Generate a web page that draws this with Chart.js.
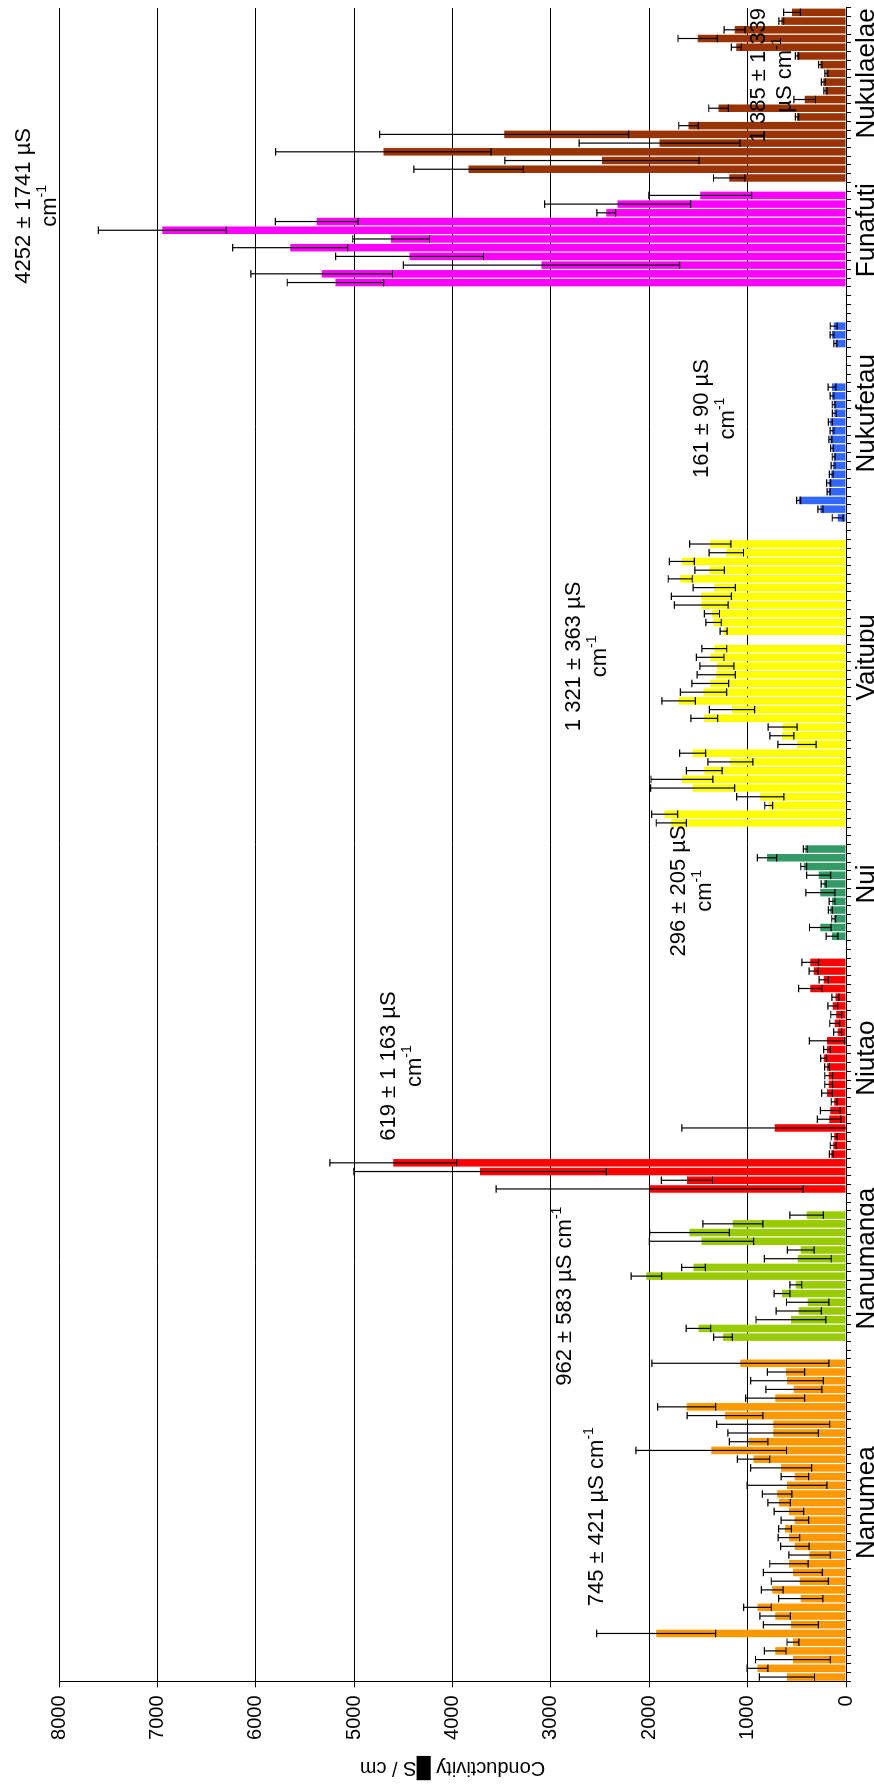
<!DOCTYPE html>
<html><head><meta charset="utf-8">
<script src="https://cdn.jsdelivr.net/npm/chart.js@4.4.0/dist/chart.umd.min.js"></script>
<style>
html,body{margin:0;padding:0;width:874px;height:1787px;overflow:hidden;background:#fff;}
#wrap{position:absolute;left:0;top:0;width:1787px;height:874px;transform-origin:0 0;transform:translate(0,1787px) rotate(-90deg);}
canvas{display:block;}
</style></head><body>
<div id="wrap"><canvas id="c" width="1787" height="874" style="width:1787px;height:874px"></canvas></div>
<script>
const FONT = "'Liberation Sans', Arial, Helvetica, sans-serif";

const islands = ['Nanumea','Nanumanga','Niutao','Nui','Vaitupu','Nukufetau','Funafuti','Nukulaelae'];
const colors  = ['#FF9900','#99CC00','#FF0000','#339966','#FFFF00','#3366FF','#FF00FF','#993300'];

const nanumeaVals = [600,900,540,720,540,1930,560,720,900,460,750,470,540,580,370,520,580,620,520,580,680,700,600,520,660,940,1370,990,740,740,1230,1620,720,530,600,610,1074];
const nanumeaErr  = [280,105,380,110,60,605,280,155,140,225,110,290,300,195,210,145,110,65,140,150,115,150,405,140,310,165,765,195,460,575,385,295,300,285,370,190,900];
const nanumangaVals = [1250,1500,560,480,390,650,510,2030,1550,490,460,1470,1590,1150,400];
const nanumangaErr  = [95,125,355,230,215,80,60,155,120,340,135,530,405,305,170];
const niutaoVals = [1996,1617,3720,4602,150,130,120,724,170,160,120,193,176,176,193,227,193,193,85,115,100,135,108,363,227,329,363];
const niutaoErr  = [1560,260,1284,645,20,30,30,944,120,100,30,55,40,40,25,30,35,180,40,50,55,50,35,119,47,45,85];
const nuiVals = [142,261,125,159,142,261,227,278,430,803,414];
const nuiErr  = [60,110,20,20,30,147,25,122,30,98,20];
const vaitupuVals = [1776,1844,786,871,1559,1668,1441,1176,1559,498,651,644,1441,1159,1702,1448,1380,1319,1312,1380,1339,null,1244,1346,1363,1471,1471,1339,1685,1387,1668,1217,1380];
const vaitupuErr  = [153,132,40,240,427,314,181,229,132,195,122,147,136,230,170,235,187,195,173,140,127,null,35,78,77,273,305,215,122,150,127,175,210];
const nukufetauVals = [85,261,481,176,176,150,132,125,142,159,142,159,119,125,142,142,null,null,null,null,108,142,125];
const nukufetauErr  = [55,25,20,15,20,20,20,15,15,15,20,20,20,15,20,40,null,null,null,null,15,20,35];
const funafutiVals = [5190,5330,3095,4437,5650,4624,6950,5380,2437,2322,1481];
const funafutiErr  = [490,720,1405,752,585,390,650,420,95,742,523];
const nukulaelaeVals = [1187,3837,2481,4702,1895,3475,1600,498,1295,420,210,230,200,261,498,1115,1508,1132,658,549];
const nukulaelaeErr  = [160,556,987,1095,817,1265,100,17,100,110,15,20,15,17,17,50,200,107,25,85];

const yTicks = [0,1000,2000,3000,4000,5000,6000,7000,8000];

const groupVals = [nanumeaVals,nanumangaVals,niutaoVals,nuiVals,vaitupuVals,nukufetauVals,funafutiVals,nukulaelaeVals];
const groupErr  = [nanumeaErr,nanumangaErr,niutaoErr,nuiErr,vaitupuErr,nukufetauErr,funafutiErr,nukulaelaeErr];
const gapAfter  = [2,2,2,2,2,4,1,0];
const labelAt   = [20,9,15,6,19,12,6,12];

const categories = [];
const start = [];
groupVals.forEach((vals,g)=>{
  start[g] = categories.length;
  vals.forEach((v,k)=>categories.push(k===labelAt[g]?islands[g]:''));
  for(let k=0;k<gapAfter[g];k++) categories.push('');
});
const N = categories.length;

const datasets = groupVals.map((vals,g)=>{
  const data = new Array(N).fill(null), errs = new Array(N).fill(null);
  vals.forEach((v,k)=>{ data[start[g]+k]=v; errs[start[g]+k]=groupErr[g][k]; });
  return {label:islands[g], data, errors:errs, backgroundColor:colors[g], borderWidth:0,
          grouped:false, barPercentage:0.86, categoryPercentage:1};
});

const notes = [
  {idx:18.4,  val:2529, lines:['745 ± 421 µS cm^-1']},
  {idx:43.7,  val:2854, lines:['962 ± 583 µS cm^-1']},
  {idx:70.1,  val:4512, lines:['619 ± 1 163 µS','cm^-1']},
  {idx:90.2,  val:1563, lines:['296 ± 205 µS','cm^-1']},
  {idx:117.1, val:2631, lines:['1 321 ± 363 µS','cm^-1']},
  {idx:144.4, val:1329, lines:['161 ± 90 µS','cm^-1']},
  {idx:168.8, val:8223, lines:['4252 ± 1741 µS','cm^-1']},
  {idx:183.8, val:750,  lines:['1 385 ± 1 339','µS cm^-1']}
];

function drawRich(ctx,str,cx,cy,size){
  const parts = str.split('^');
  const base = parts[0], sup = parts[1];
  const ss = Math.round(size*0.62);
  ctx.font = size+'px '+FONT;
  const wb = ctx.measureText(base).width;
  ctx.font = ss+'px '+FONT;
  const ws = sup ? ctx.measureText(sup).width : 0;
  const x0 = cx-(wb+ws)/2;
  ctx.textAlign='left'; ctx.textBaseline='middle'; ctx.fillStyle='#000';
  ctx.font = size+'px '+FONT; ctx.fillText(base,x0,cy);
  if(sup){ ctx.font = ss+'px '+FONT; ctx.fillText(sup,x0+wb,cy-size*0.38); }
}

const errorBars = {
  id:'errorBars',
  afterDatasetsDraw(chart){
    const {ctx, chartArea, scales:{y}} = chart;
    ctx.save(); ctx.strokeStyle='#000'; ctx.lineWidth=1.2;
    chart.data.datasets.forEach((ds,di)=>{
      const meta = chart.getDatasetMeta(di);
      meta.data.forEach((bar,i)=>{
        const v = ds.data[i], e = ds.errors[i];
        if(v==null||e==null) return;
        const x = bar.x, hw = bar.width/2;
        const yt = y.getPixelForValue(v+e);
        let yb = y.getPixelForValue(v-e);
        const clip = yb>chartArea.bottom; if(clip) yb = chartArea.bottom;
        ctx.beginPath();
        ctx.moveTo(x,yt); ctx.lineTo(x,yb);
        ctx.moveTo(x-hw,yt); ctx.lineTo(x+hw,yt);
        if(!clip){ ctx.moveTo(x-hw,yb); ctx.lineTo(x+hw,yb); }
        ctx.stroke();
      });
    });
    ctx.restore();
  }
};

const annotations = {
  id:'annotations',
  afterDraw(chart){
    const {ctx, scales:{x,y}} = chart;
    ctx.save();
    notes.forEach(n=>{
      const cx = x.getPixelForValue(n.idx);
      const cm = y.getPixelForValue(n.val);
      const lh = 26, top = cm-(n.lines.length-1)*lh/2;
      n.lines.forEach((t,i)=>drawRich(ctx,t,cx,top+i*lh,22));
    });
    ctx.restore();
  }
};

new Chart(document.getElementById('c'), {
  type:'bar',
  data:{labels:categories, datasets},
  options:{
    responsive:false, animation:false, devicePixelRatio:1,
    layout:{padding:{left:0,top:59,right:8,bottom:0}},
    plugins:{legend:{display:false}, tooltip:{enabled:false}},
    scales:{
      x:{
        offset:true,
        grid:{display:true, drawOnChartArea:false, drawTicks:true, tickLength:5, color:'#000', offset:true},
        border:{display:true, color:'#000', width:1},
        ticks:{autoSkip:false, maxRotation:0, minRotation:0, color:'#000', font:{family:FONT,size:26}, padding:0},
        afterFit(s){ s.height = 28; }
      },
      y:{
        min:0, max:8000,
        afterBuildTicks(s){ s.ticks = yTicks.map(v=>({value:v})); },
        ticks:{color:'#000', font:{family:FONT,size:20}, padding:8, callback:(v)=>String(v)},
        grid:{color:'#000', lineWidth:1, tickLength:6},
        border:{display:true, color:'#000', width:1},
        title:{display:true, text:'Conductivity █S / cm', color:'#000', font:{family:FONT,size:20}, padding:{top:7,bottom:0}},
        afterFit(s){ s.width = 105.6; }
      }
    }
  },
  plugins:[errorBars, annotations]
});
</script></body></html>
